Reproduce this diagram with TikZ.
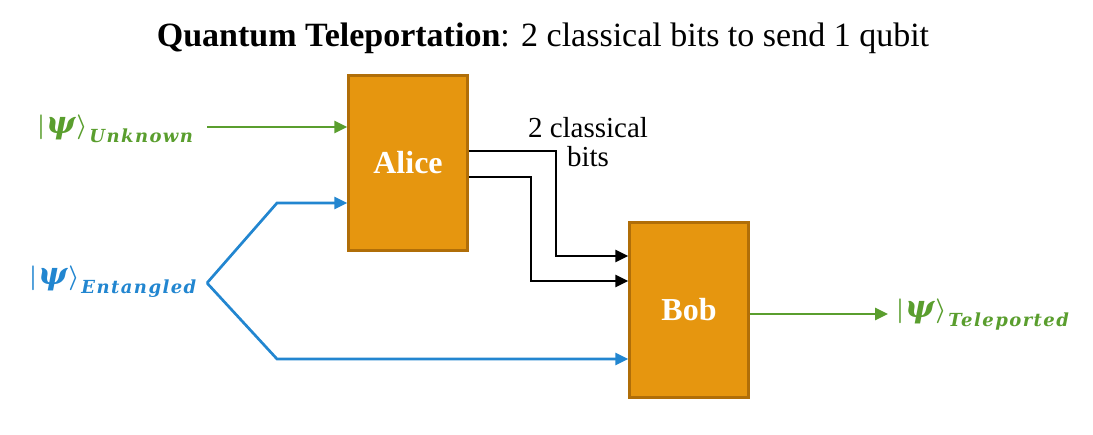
\documentclass[tikz,border=0pt]{standalone}
\usepackage{fontspec}
\setmainfont{Liberation Serif}
\newfontfamily\subfont[LetterSpace=8]{DejaVu Serif}
\newfontfamily\psifont{DejaVu Serif}
\usetikzlibrary{arrows.meta}
\definecolor{qgreen}{HTML}{5A9E2E}
\definecolor{qblue}{HTML}{2286D0}
\definecolor{qorange}{HTML}{E6960F}
\definecolor{qborder}{HTML}{B06E08}
% ket |psi> followed by a lowered bold italic subscript
\newcommand\psiket[1]{{\fontsize{27}{27}\selectfont\boldmath$|$\kern1pt{\psifont\bfseries\itshape\fontsize{31}{31}\selectfont ψ}\kern1pt$\rangle$}\kern2pt\raisebox{-9pt}{\subfont\bfseries\itshape\fontsize{18}{18}\selectfont #1}}
\begin{document}
\begin{tikzpicture}[x=1pt,y=-1pt,
  party/.style={draw=qborder,fill=qorange,line width=2.5pt,minimum width=119pt,minimum height=175pt,
    text=white,font=\fontsize{32}{32}\selectfont\bfseries,inner sep=0pt},
  wire/.style={line width=2.7pt,-{Triangle[length=13pt,width=12pt]}},
  ket/.style={inner sep=0pt,anchor=base west}]
\useasboundingbox (0,0) rectangle (1093,435);
% title
\node[font=\fontsize{34}{34}\selectfont] (title) at (543,38) {\textbf{Quantum Teleportation}: 2 classical bits to send 1 qubit};
% parties
\node[party] (alice) at (408,163) {Alice};
\node[party] (bob) at (689,310) {Bob};
% state labels
\node[ket,text=qgreen] (unk) at (37,134) {\psiket{Unknown}};
\node[ket,text=qblue] (ent) at (29,285) {\psiket{Entangled}};
\node[ket,text=qgreen] (tel) at (896,318) {\psiket{Teleported}};
% classical bits label
\node[font=\fontsize{29}{29}\selectfont,align=center,inner sep=0pt] (bits) at (588,142) {2 classical\\bits};
% connectors
\coordinate (split) at (207,283);
\coordinate (unkstart) at (207,127);
\coordinate (upper) at (277,203);
\coordinate (lower) at (277,359);
\coordinate (telend) at (888,314);
\draw[wire,qgreen] (unkstart) -- (alice.west |- unkstart);
\draw[wire,qblue] (split) -- (upper) -- (alice.west |- upper);
\draw[wire,qblue] (split) -- (lower) -- (bob.west |- lower);
\draw[wire,black] (alice.east |- 0,151) -| (556,256) -- (bob.west |- 0,256);
\draw[wire,black] (alice.east |- 0,177) -| (531,281) -- (bob.west |- 0,281);
\draw[wire,qgreen] (bob.east |- telend) -- (telend);
\end{tikzpicture}
\end{document}
